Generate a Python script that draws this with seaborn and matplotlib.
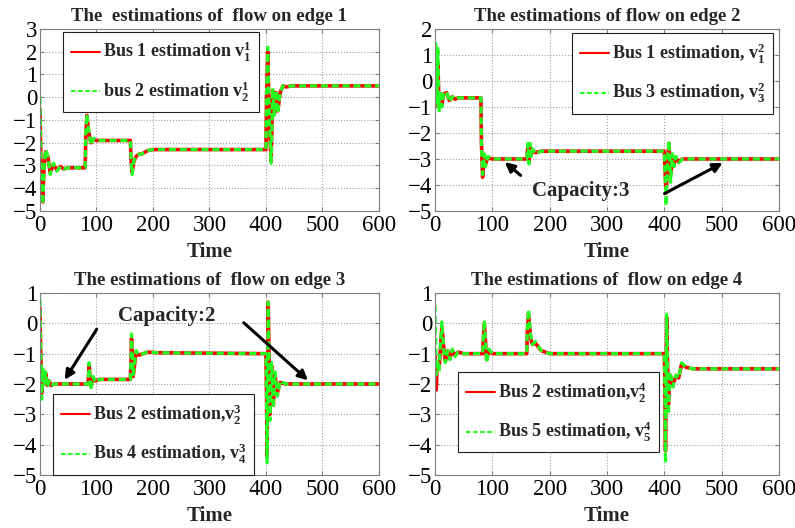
import numpy as np
import matplotlib
matplotlib.use('Agg')
import matplotlib.pyplot as plt
import seaborn as sns

# edge 1
t1 = [0, 2, 5, 7, 10, 14, 18, 24, 30, 36, 42, 50, 80, 81, 83, 86, 90, 95, 100, 160,
      161, 163, 166, 170, 175, 180, 190, 200, 400, 401, 403, 406, 409, 412, 415,
      418, 421, 425, 430, 436, 445, 600]
g1 = [0.0, -3.6, -4.7, -3.2, -2.3, -2.6, -3.4, -2.9, -3.25, -3.05, -3.15, -3.1, -3.1, -1.6, -0.75,
      -1.4, -2.1, -1.8, -1.9, -1.9, -2.6, -3.4, -2.8, -2.6, -2.5, -2.5, -2.35, -2.3, -2.3, 0.2,
      2.2, -1.0, -2.9, 0.4, -0.8, 0.3, -0.7, 0.2, 0.5, 0.45, 0.5, 0.5]
r1 = [-0.5, -3.5, -4.6, -3.1, -2.4, -2.6, -3.3, -2.95, -3.2, -3.05, -3.15, -3.1, -3.1, -1.8, -0.8,
      -1.5, -2.0, -1.85, -1.9, -1.9, -2.7, -3.3, -2.85, -2.6, -2.5, -2.5, -2.35, -2.3, -2.3, 0.0,
      2.0, -1.2, -2.8, 0.3, -0.7, 0.2, -0.6, 0.2, 0.5, 0.45, 0.5, 0.5]

# edge 2
t2 = [0, 1, 3, 5, 7, 9, 12, 15, 20, 25, 30, 35, 40, 80, 81, 83, 86, 88, 92, 100,
      160, 162, 164, 166, 168, 170, 175, 185, 400, 401, 403, 406, 408, 411, 414,
      417, 420, 425, 432, 440, 600]
g2 = [-1.0, 1.5, -0.9, 1.3, -1.2, -0.4, -1.0, -0.5, -0.4, -0.8, -0.6, -0.7, -0.65, -0.65, -2.5,
      -3.6, -2.8, -3.3, -2.9, -3.0, -3.0, -2.4, -3.2, -2.4, -2.9, -2.6, -2.8, -2.7, -2.7, -3.5,
      -4.8, -2.9, -2.3, -3.9, -2.8, -3.3, -2.9, -3.15, -3.0, -3.0, -3.0]
r2 = [-1.0, 0.8, -0.8, 0.7, -1.0, -0.5, -0.9, -0.5, -0.45, -0.75, -0.6, -0.7, -0.65, -0.65, -2.4,
      -3.7, -2.9, -3.2, -2.95, -3.0, -3.0, -2.5, -3.1, -2.5, -2.85, -2.65, -2.75, -2.7, -2.7, -3.3,
      -4.3, -3.0, -2.4, -3.6, -2.85, -3.2, -2.95, -3.1, -3.0, -3.0, -3.0]

# edge 3
t3 = [0, 1, 3, 5, 8, 10, 13, 16, 20, 25, 85, 87, 90, 94, 98, 105, 160, 161, 162, 165,
      170, 175, 190, 210, 400, 401, 402, 404, 407, 410, 413, 416, 420, 425, 435, 600]
g3 = [0.8, -0.5, -2.5, -1.5, -2.0, -1.6, -2.1, -1.9, -2.05, -2.0, -2.0, -1.3, -2.2, -1.75, -1.95,
      -1.85, -1.85, -1.2, -0.35, -1.7, -0.9, -1.05, -0.95, -0.97, -1.0, -2.5, -4.6, 0.7, -3.2, -1.3,
      -2.8, -1.6, -2.4, -1.9, -2.0, -2.0]
r3 = [0.5, -0.8, -2.3, -1.6, -2.0, -1.65, -2.05, -1.9, -2.05, -2.0, -2.0, -1.4, -2.1, -1.8, -1.9,
      -1.85, -1.85, -1.3, -0.5, -1.75, -0.95, -1.05, -0.95, -0.97, -1.0, -2.3, -4.4, 0.7, -3.0, -1.4,
      -2.7, -1.7, -2.3, -1.95, -2.0, -2.0]

# edge 4
t4 = [0, 2, 4, 7, 10, 12, 15, 18, 22, 26, 30, 35, 40, 50, 83, 86, 90, 94, 100, 160,
      161, 163, 167, 170, 175, 185, 200, 400, 401, 402, 404, 407, 410, 415, 420,
      425, 430, 438, 450, 600]
g4 = [0.6, -1.7, -1.2, -1.6, -0.5, 0.05, -0.8, -1.3, -0.9, -1.2, -0.85, -1.1, -0.95, -1.0, -1.0,
      0.1, -1.3, -0.85, -1.0, -1.0, -0.2, 0.45, -0.4, -0.7, -0.6, -0.9, -1.0, -1.0, -2.5, -4.6,
      0.3, -3.0, -1.6, -2.1, -1.7, -1.8, -1.3, -1.45, -1.5, -1.5]
r4 = [-1.0, -2.2, -1.3, -1.5, -0.7, -0.1, -0.75, -1.25, -0.9, -1.15, -0.9, -1.05, -0.95, -1.0, -1.0,
      0.0, -1.2, -0.9, -1.0, -1.0, -0.3, 0.3, -0.5, -0.7, -0.65, -0.9, -1.0, -1.0, -2.3, -4.2,
      0.2, -2.7, -1.7, -2.0, -1.75, -1.8, -1.35, -1.45, -1.5, -1.5]

titles = ['The  estimations of  flow on edge 1', 'The estimations of flow on edge 2',
          'The estimations of  flow on edge 3', 'The estimations of  flow on edge 4']
red_labels = [r'Bus 1 estimation $\mathbf{v}_1^1$', r'Bus 1 estimation, $\mathbf{v}_1^2$',
              r'Bus 2 estimation,$\mathbf{v}_2^3$', r'Bus 2 estimation,$\mathbf{v}_2^4$']
green_labels = [r'bus 2 estimation $\mathbf{v}_2^1$', r'Bus 3 estimation, $\mathbf{v}_3^2$',
                r'Bus 4 estimation, $\mathbf{v}_4^3$', r'Bus 5 estimation, $\mathbf{v}_5^4$']
ylims = [(-5, 3), (-5, 2), (-5, 1), (-5, 1)]

PLOTSTYLE = {'axes.edgecolor': '#808080', 'grid.linestyle': ':', 'grid.color': '#a0a0a0',
             'xtick.direction': 'in', 'ytick.direction': 'in'}
sns.set_style('ticks', rc=PLOTSTYLE)
plt.rcParams['font.family'] = ['Liberation Serif', 'DejaVu Serif']
plt.rcParams['mathtext.fontset'] = 'custom'
plt.rcParams['mathtext.rm'] = 'Liberation Serif:bold'
plt.rcParams['mathtext.bf'] = 'Liberation Serif:bold'
plt.rcParams['mathtext.it'] = 'Liberation Serif:bold'

fig = plt.figure(figsize=(7.95, 5.28), dpi=100)
positions = [[0.0503, 0.6004, 0.4264, 0.3447], [0.5472, 0.6004, 0.4327, 0.3447],
             [0.0503, 0.1004, 0.4264, 0.3447], [0.5472, 0.1004, 0.4327, 0.3447]]
legend_anchor = [(0.068, 0.984), (0.398, 0.978), (0.038, 0.445), (0.067, 0.566)]

series = [(t1, r1, g1), (t2, r2, g2), (t3, r3, g3), (t4, r4, g4)]
for i, (t, r, g) in enumerate(series):
    ax = fig.add_axes(positions[i])
    sns.lineplot(x=t, y=r, ax=ax, color='#ff0000', linewidth=2.6, estimator=None, sort=False,
                 label=red_labels[i])
    sns.lineplot(x=t, y=g, ax=ax, color='#22ff22', linewidth=2.3, estimator=None, sort=False,
                 linestyle=(0, (2.2, 1.2)), label=green_labels[i])
    ax.set_xlim(0, 600)
    ax.set_ylim(*ylims[i])
    ax.set_xticks(np.arange(0, 601, 100))
    ax.set_yticks(np.arange(ylims[i][0], ylims[i][1] + 1, 1))
    ax.grid(True, linewidth=0.8)
    ax.tick_params(labelsize=16.5, length=3, top=True, right=True, colors='#808080', labelcolor='black')
    ax.tick_params(axis='x', pad=3)
    ax.tick_params(axis='y', pad=2)
    ax.set_title(titles[i], fontsize=13.5, fontweight='bold', pad=6)
    ax.set_xlabel('Time', fontsize=15, fontweight='bold', labelpad=4)
    for s in ax.spines.values():
        s.set_color('#808080')
    leg = ax.legend(loc='upper left', bbox_to_anchor=legend_anchor[i],
                    prop={'weight': 'bold', 'size': 13}, fancybox=False, framealpha=1,
                    edgecolor='#202020', handlelength=1.6, handletextpad=0.15,
                    labelspacing=0.85, borderpad=0.45, borderaxespad=0)
    for h in leg.get_lines():
        h.set_linewidth(1.5)
    leg.get_frame().set_linewidth(0.8)
    if i == 1:
        ax.text(255, -4.25, 'Capacity:3', fontsize=15, fontweight='bold', ha='center', va='center')
        ax.annotate('', xy=(118, -3.05), xytext=(153, -3.7),
                    arrowprops=dict(arrowstyle='-|>', color='black', lw=2.2, mutation_scale=14))
        ax.annotate('', xy=(506, -3.1), xytext=(396, -4.38),
                    arrowprops=dict(arrowstyle='-|>', color='black', lw=2.2, mutation_scale=14))
    if i == 2:
        ax.text(225, 0.24, 'Capacity:2', fontsize=15, fontweight='bold', ha='center', va='center')
        ax.annotate('', xy=(41, -1.94), xytext=(103, -0.12),
                    arrowprops=dict(arrowstyle='-|>', color='black', lw=2.2, mutation_scale=14))
        ax.annotate('', xy=(478, -1.94), xytext=(357, 0.08),
                    arrowprops=dict(arrowstyle='-|>', color='black', lw=2.2, mutation_scale=14))

fig.savefig('out.png', dpi=100)
